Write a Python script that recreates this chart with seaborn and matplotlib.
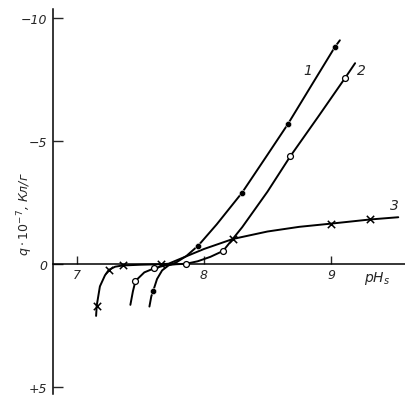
import matplotlib
matplotlib.use("Agg")
import matplotlib.pyplot as plt
import pandas as pd
import seaborn as sns

# traced curves (pH_s, q*10^-7)
curve1_x = [7.57, 7.585, 7.60, 7.63, 7.67, 7.72, 7.78, 7.86, 7.955, 8.10, 8.30, 8.50, 8.66, 8.85, 9.03, 9.07]
curve1_y = [1.72, 1.30, 1.08, 0.60, 0.25, 0.05, -0.07, -0.33, -0.76, -1.62, -2.91, -4.45, -5.69, -7.30, -8.82, -9.10]

curve2_x = [7.42, 7.44, 7.46, 7.53, 7.61, 7.70, 7.78, 7.86, 7.95, 8.05, 8.15, 8.30, 8.50, 8.68, 8.90, 9.11, 9.19]
curve2_y = [1.65, 1.10, 0.68, 0.33, 0.16, 0.04, 0.00, -0.02, -0.12, -0.30, -0.54, -1.50, -2.95, -4.39, -6.00, -7.56, -8.17]

curve3_x = [7.15, 7.155, 7.18, 7.22, 7.25, 7.30, 7.36, 7.50, 7.66, 7.72, 7.85, 8.00, 8.23, 8.50, 8.75, 9.00, 9.31, 9.53]
curve3_y = [2.10, 1.68, 0.90, 0.45, 0.23, 0.10, 0.05, 0.02, 0.00, -0.02, -0.30, -0.62, -1.03, -1.33, -1.52, -1.65, -1.82, -1.91]

# measured points
pts1_x = [7.60, 7.955, 8.30, 8.66, 9.03]
pts1_y = [1.08, -0.76, -2.91, -5.69, -8.82]
pts2_x = [7.46, 7.61, 7.86, 8.15, 8.68, 9.11]
pts2_y = [0.68, 0.16, 0.00, -0.54, -4.39, -7.56]
pts3_x = [7.155, 7.25, 7.36, 7.66, 8.23, 9.00, 9.31]
pts3_y = [1.68, 0.23, 0.05, 0.00, -1.03, -1.65, -1.82]

curve_labels = ["1", "2", "3"]
label_x = [8.82, 9.24, 9.50]
label_y = [-7.9, -7.9, -2.4]

y_ticks = [-10, -5, 0, 5]
y_ticklabels = ["\u221210", "\u22125", "0", "+5"]
x_ticks = [7, 8, 9]

sns.set_theme(style="white")
plt.rcParams["font.family"] = ["DejaVu Sans"]

fig = plt.figure(figsize=(4.05, 4.02), dpi=100)
ax = fig.add_axes([0.131, 0.017, 0.869, 0.958])

for cx, cy in [(curve1_x, curve1_y), (curve2_x, curve2_y), (curve3_x, curve3_y)]:
    d = pd.DataFrame({"x": cx, "y": cy})
    sns.lineplot(data=d, x="x", y="y", sort=False, ax=ax, color="black", lw=1.4)

sns.scatterplot(x=pts1_x, y=pts1_y, ax=ax, color="black", s=20, marker="o", zorder=3)
sns.scatterplot(x=pts2_x, y=pts2_y, ax=ax, facecolor="white", edgecolor="black", s=18,
                marker="o", linewidth=0.9, zorder=3)
sns.scatterplot(x=pts3_x, y=pts3_y, ax=ax, color="black", s=28, marker="x", linewidth=1.1, zorder=3)

for t, lx, ly in zip(curve_labels, label_x, label_y):
    ax.text(lx, ly, t, fontsize=10, fontstyle="italic", ha="center", va="center")

ax.set_xlim(6.811, 9.583)
ax.set_ylim(5.28, -10.37)

ax.spines["top"].set_visible(False)
ax.spines["right"].set_visible(False)
ax.spines["bottom"].set_position(("data", 0))
ax.spines["left"].set_color("black")
ax.spines["bottom"].set_color("black")
ax.spines["left"].set_linewidth(1.1)
ax.spines["bottom"].set_linewidth(1.1)

ax.set_yticks(y_ticks)
ax.set_yticklabels(y_ticklabels, fontstyle="italic", fontsize=9)
ax.set_xticks(x_ticks)
ax.set_xticklabels([str(v) for v in x_ticks], fontstyle="italic", fontsize=9)
ax.tick_params(axis="y", direction="in", length=7, width=1.0, pad=4, left=True)
ax.tick_params(axis="x", direction="in", length=6, width=1.0, pad=3, bottom=True)
ax.set_xlabel("")
ax.set_ylabel("$q \\cdot 10^{-7}$, Кл/г", fontstyle="italic", fontsize=9)
ax.yaxis.set_label_coords(-0.05, 0.47)

ax.text(9.36, 0.55, "$pH_s$", fontsize=10, ha="center", va="center")

fig.savefig("out.png", dpi=100)
